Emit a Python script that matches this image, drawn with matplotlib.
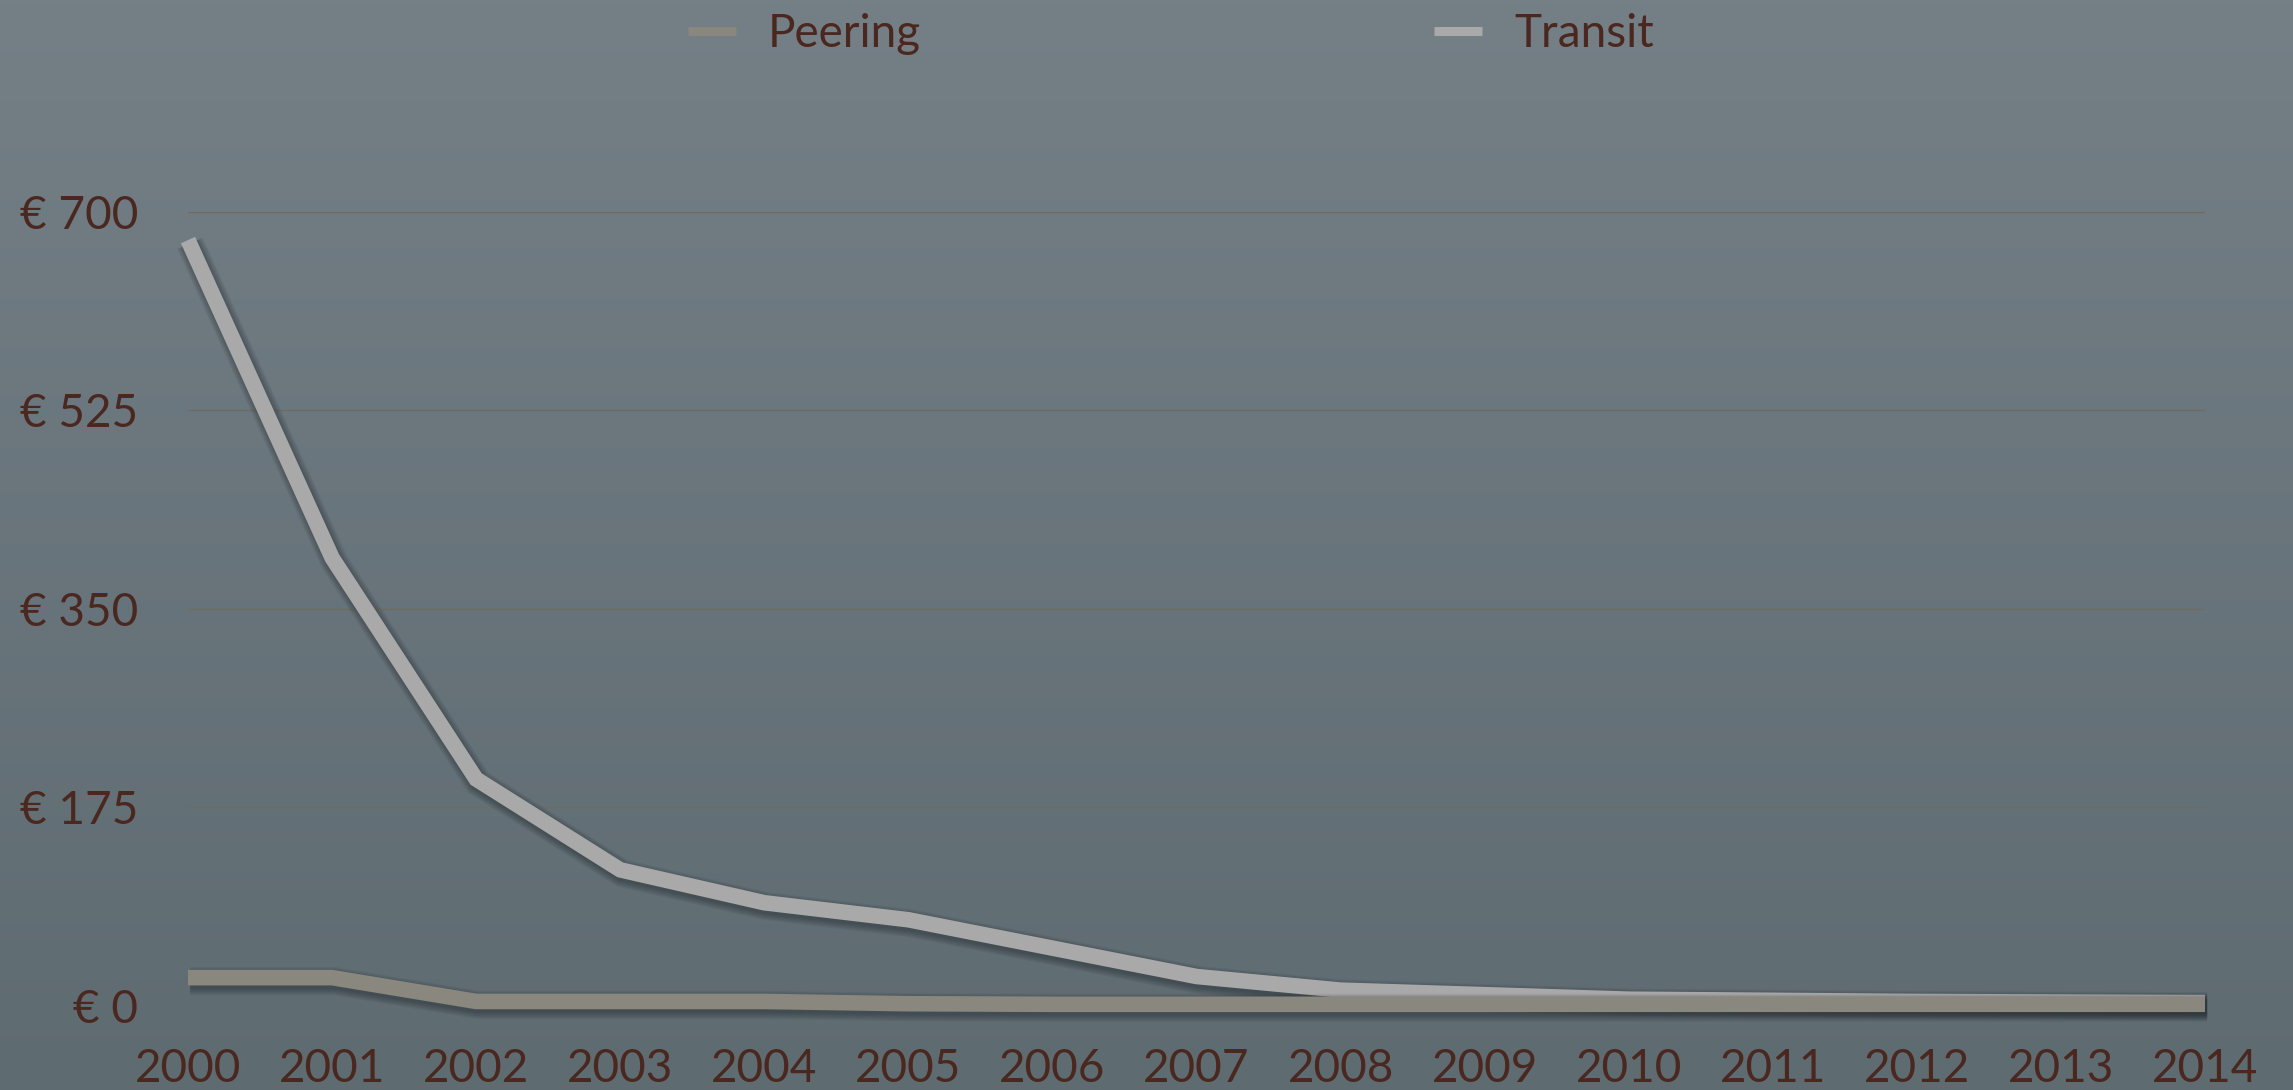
import matplotlib
matplotlib.use("Agg")
import matplotlib.pyplot as plt
import matplotlib.patheffects as pe
from matplotlib.lines import Line2D
import numpy as np

# data
years = list(range(2000, 2015))
transit = [675, 395, 200, 120, 91, 76, 51, 26, 14, 10, 6, 5, 4, 3.5, 3]
peering = [25, 25, 4, 4, 4, 2, 1.5, 1.5, 1.5, 1.5, 1.5, 1.5, 1.5, 1.5, 1.5]
y_ticks = [0, 175, 350, 525, 700]
y_tick_labels = ["€ 0", "€ 175", "€ 350", "€ 525", "€ 700"]
x_tick_labels = [str(y) for y in years]

TEXT = "#4a271f"
C_TRANSIT = "#a9a9a9"
C_PEERING = "#8a877f"
GRID = "#6f6b61"

plt.rcParams["font.family"] = ["Lato", "DejaVu Sans"]
FS = 33

W, H = 2293, 1090
fig = plt.figure(figsize=(W / 100, H / 100), dpi=100)

# gradient background over the whole figure
bg = fig.add_axes([0, 0, 1, 1], zorder=-10)
top = np.array([0x74, 0x7f, 0x86]) / 255
bot = np.array([0x5e, 0x6b, 0x71]) / 255
t = np.linspace(0, 1, 256)[:, None]
grad = top[None, :] * (1 - t) + bot[None, :] * t
bg.imshow(grad[:, None, :], aspect="auto", extent=[0, 1, 0, 1])
bg.set_axis_off()

ax = fig.add_axes([188 / W, 84 / H, 2017 / W, 794.3 / H])
ax.set_facecolor("none")
ax.set_xlim(2000, 2014)
ax.set_ylim(0, 700)
for s in ax.spines.values():
    s.set_visible(False)

ax.set_yticks(y_ticks)
ax.set_yticklabels(y_tick_labels)
ax.set_xticks(years)
ax.set_xticklabels(x_tick_labels)
ax.tick_params(axis="both", length=0, labelsize=FS, labelcolor=TEXT)
ax.tick_params(axis="y", pad=36)
ax.tick_params(axis="x", pad=30)
ax.grid(axis="y", color=GRID, lw=1.0)
ax.grid(axis="x", visible=False)
ax.set_axisbelow(True)


def shadow():
    fx = []
    for i in range(6):
        fx.append(pe.SimpleLineShadow(offset=(1.5, -2.5), shadow_color="#151c20",
                                      alpha=0.07, linewidth=11.2 + 1.8 * i))
    fx.append(pe.Normal())
    return fx


lw = 11.2
ax.plot(years, transit, color=C_TRANSIT, lw=lw, solid_capstyle="butt",
        solid_joinstyle="miter", clip_on=False, path_effects=shadow(), zorder=3)
ax.plot(years, peering, color=C_PEERING, lw=lw, solid_capstyle="butt",
        solid_joinstyle="miter", clip_on=False, path_effects=shadow(), zorder=4)

handles = [Line2D([], [], color=C_PEERING, lw=6.5, solid_capstyle="butt"),
           Line2D([], [], color=C_TRANSIT, lw=6.5, solid_capstyle="butt")]
leg = fig.legend(handles, ["Peering", "Transit"], loc="center",
                 bbox_to_anchor=(1171 / W, 1 - 34 / H), ncol=2, frameon=False,
                 fontsize=FS, handlelength=1.05, handletextpad=0.7,
                 columnspacing=11.2, borderpad=0)
for txt in leg.get_texts():
    txt.set_color(TEXT)

fig.savefig("out.png", dpi=100)
